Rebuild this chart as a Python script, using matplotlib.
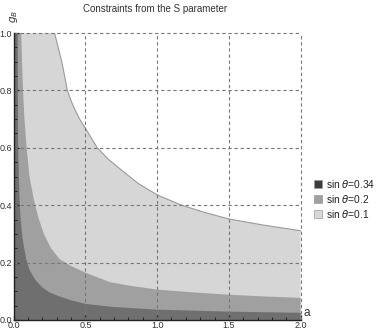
import numpy as np
import matplotlib
matplotlib.use("Agg")
import matplotlib.pyplot as plt
from matplotlib.ticker import MultipleLocator
from matplotlib.lines import Line2D

# boundary curves (a, g)
a_034 = [0.028, 0.029, 0.031, 0.036, 0.042, 0.05, 0.06, 0.075, 0.088, 0.11, 0.15, 0.2,
         0.25, 0.32, 0.39, 0.5, 0.7, 1.0, 1.5, 2.0]
g_034 = [1.0, 0.8, 0.6, 0.5, 0.4, 0.34, 0.29, 0.245, 0.21, 0.175, 0.14, 0.113,
         0.096, 0.082, 0.07, 0.056, 0.045, 0.036, 0.029, 0.025]

a_02 = [0.052, 0.058, 0.065, 0.075, 0.09, 0.11, 0.14, 0.17, 0.21, 0.26, 0.32, 0.4,
        0.5, 0.67, 0.8, 1.0, 1.25, 1.5, 1.75, 2.0]
g_02 = [1.0, 0.9, 0.8, 0.7, 0.6, 0.5, 0.42, 0.36, 0.3, 0.25, 0.212, 0.188,
        0.165, 0.132, 0.12, 0.106, 0.096, 0.088, 0.082, 0.077]

a_01 = [0.285, 0.31, 0.335, 0.355, 0.374, 0.395, 0.42, 0.46, 0.5, 0.583, 0.66, 0.75, 0.87,
        1.0, 1.17, 1.33, 1.5, 1.75, 2.0]
g_01 = [1.0, 0.95, 0.9, 0.85, 0.8, 0.77, 0.74, 0.7, 0.668, 0.6, 0.56, 0.523, 0.475,
        0.436, 0.4, 0.375, 0.352, 0.33, 0.311]

labels = ["sin $\\theta$=0.34", "sin $\\theta$=0.2", "sin $\\theta$=0.1"]
fill_cols = ["#6f6f6f", "#a0a0a0", "#d6d6d6"]
leg_cols = ["#3c3c3c", "#a0a0a0", "#d8d8d8"]

plt.rcParams["font.family"] = ["Liberation Sans", "DejaVu Sans"]
plt.rcParams["mathtext.fontset"] = "dejavusans"

fig = plt.figure(figsize=(3.83, 3.34), dpi=100)
ax = fig.add_axes([0.0358, 0.042, 0.749, 0.859])

def region(xs, ys, col, edge):
    px = [0.0] + list(xs) + [2.0, 0.0]
    py = [1.0] + list(ys) + [0.0, 0.0]
    ax.fill(px, py, color=col, lw=0, zorder=1)
    if edge:
        ax.plot(xs, ys, color="#9a9a9a", lw=0.8, zorder=1.5)

region(a_01, g_01, fill_cols[2], True)
region(a_02, g_02, fill_cols[1], False)
region(a_034, g_034, fill_cols[0], False)

ax.set_xlim(0, 2)
ax.set_ylim(0, 1)
ax.xaxis.set_major_locator(MultipleLocator(0.5))
ax.xaxis.set_minor_locator(MultipleLocator(0.1))
ax.yaxis.set_major_locator(MultipleLocator(0.2))
ax.yaxis.set_minor_locator(MultipleLocator(0.05))
ax.xaxis.set_major_formatter(plt.FormatStrFormatter("%.1f"))
ax.yaxis.set_major_formatter(plt.FormatStrFormatter("%.1f"))

for v in [0.5, 1.0, 1.5, 2.0]:
    ax.axvline(v, color="#777777", lw=0.8, ls=(0, (3, 2.5)), zorder=2, clip_on=False)
for v in [0.2, 0.4, 0.6, 0.8, 1.0]:
    ax.axhline(v, color="#777777", lw=0.8, ls=(0, (3, 2.5)), zorder=2, clip_on=False)

for s in ["top", "right"]:
    ax.spines[s].set_visible(False)
for s in ["left", "bottom"]:
    ax.spines[s].set_color("#222222")
    ax.spines[s].set_linewidth(1.0)
    ax.spines[s].set_zorder(3)

ax.tick_params(which="both", direction="in", colors="#222222", labelsize=6.5, pad=1.0, zorder=3)
ax.tick_params(which="major", length=3.5, width=0.9)
ax.tick_params(which="minor", length=2, width=0.7)
ax.tick_params(axis="both", labelcolor="#333333")

fig.text(155 / 383, 1 - 9 / 334, "Constraints from the S parameter", fontsize=7,
         color="#333333", ha="center", va="center")
ax.text(2.02, 0.005, "a", fontsize=8.5, color="#333333", ha="left", va="bottom",
        transform=ax.transData, clip_on=False)
ax.text(0.0, 1.035, "$g_B$", fontsize=7.5, color="#333333", rotation=90,
        ha="center", va="bottom", transform=ax.transAxes)

handles = [Line2D([], [], ls="", marker="s", markersize=5.5, markerfacecolor=c,
                  markeredgecolor="#9a9a9a", markeredgewidth=0.5) for c in leg_cols]
fig.legend(handles, labels, loc="center left", bbox_to_anchor=(0.822, 0.405),
           frameon=False, fontsize=7.3, handlelength=0.7, handletextpad=0.45,
           labelspacing=0.3, labelcolor="#222222", borderpad=0, borderaxespad=0)

fig.savefig("out.png", dpi=100, facecolor="white")
